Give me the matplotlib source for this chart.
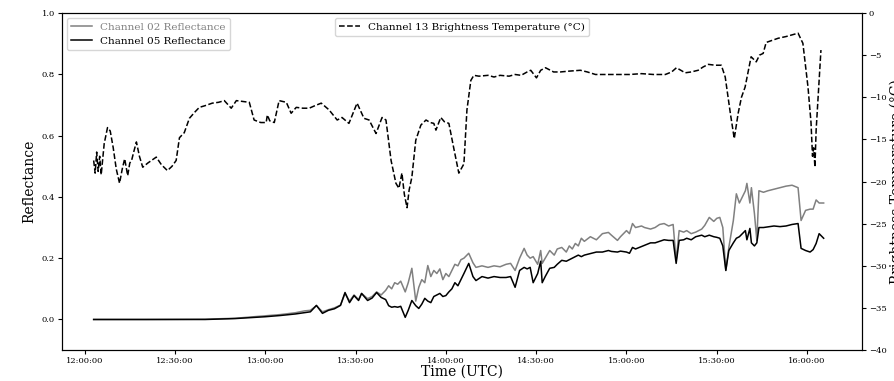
import pandas as pd
import matplotlib.pyplot as plt
import matplotlib.dates as mdates

plt.rcParams["font.family"] = "DejaVu Serif"

start = pd.Timestamp("2023-06-01 12:00:00")

# Visible reflectance (minutes after 12:00 UTC)
refl_minutes = [3, 20, 40, 50, 55, 60, 65, 70, 73, 75, 77, 79, 81, 83, 85, 86.5, 88, 89.5, 91, 92,
                94, 95.5, 97, 98.5, 100, 101, 102, 103, 104, 105, 106.5, 107.5, 108.7, 110, 111, 112,
                113, 114, 115, 116, 117, 118, 119, 120, 121, 122, 123, 124, 125, 126, 127.6, 129, 130,
                132, 134, 136, 138, 140, 141.5, 143, 144.5, 146, 147, 148, 149, 150.5, 151.5, 152,
                153, 154.5, 156, 157, 158.5, 160, 161, 162, 163, 164, 165, 166, 168, 170, 172, 174,
                175, 177, 178, 180, 181, 182, 183, 185, 186, 188, 189.5, 191, 192.5, 194, 195.5,
                196.5, 197.5, 199, 200, 201.5, 203, 205, 206, 207.5, 209, 210, 211, 212, 213, 214,
                215.5, 216.5, 217.5, 218.5, 219.5, 220, 221, 221.5, 222.5, 223.3, 224, 225.5, 227,
                229, 231, 233, 235, 237, 238, 239.5, 241, 242, 243, 244, 245.5]
ch02 = [0.0, 0.0, 0.001, 0.004, 0.008, 0.012, 0.016, 0.022, 0.028, 0.03, 0.045, 0.025, 0.032, 0.038,
        0.047, 0.085, 0.06, 0.08, 0.065, 0.085, 0.068, 0.075, 0.09, 0.08, 0.095, 0.11, 0.1, 0.12,
        0.115, 0.125, 0.09, 0.12, 0.167, 0.06, 0.105, 0.13, 0.12, 0.176, 0.14, 0.16, 0.15, 0.165,
        0.13, 0.15, 0.14, 0.16, 0.18, 0.175, 0.195, 0.2, 0.216, 0.185, 0.17, 0.175, 0.17, 0.175,
        0.172, 0.18, 0.183, 0.16, 0.2, 0.232, 0.21, 0.2, 0.205, 0.18, 0.225, 0.183, 0.2, 0.225,
        0.21, 0.23, 0.235, 0.22, 0.24, 0.23, 0.248, 0.24, 0.265, 0.255, 0.27, 0.26, 0.28, 0.284,
        0.275, 0.258, 0.27, 0.29, 0.28, 0.313, 0.3, 0.305, 0.3, 0.295, 0.3, 0.31, 0.313, 0.305,
        0.31, 0.193, 0.29, 0.285, 0.29, 0.28, 0.285, 0.295, 0.307, 0.333, 0.32, 0.33, 0.333, 0.3,
        0.16, 0.235, 0.323, 0.41, 0.38, 0.4, 0.42, 0.444, 0.38, 0.43, 0.346, 0.258, 0.42, 0.415,
        0.42, 0.425, 0.43, 0.435, 0.438, 0.43, 0.323, 0.356, 0.36, 0.36, 0.39, 0.38, 0.38]
ch05 = [0.0, 0.0, 0.0, 0.003, 0.006, 0.009, 0.013, 0.018, 0.022, 0.025, 0.046, 0.02, 0.03, 0.035,
        0.046, 0.088, 0.055, 0.078, 0.062, 0.085, 0.062, 0.07, 0.088, 0.072, 0.065, 0.045, 0.04,
        0.042, 0.04, 0.043, 0.007, 0.03, 0.062, 0.045, 0.036, 0.05, 0.069, 0.06, 0.055, 0.075, 0.08,
        0.085, 0.075, 0.078, 0.09, 0.1, 0.12, 0.11, 0.13, 0.15, 0.183, 0.14, 0.127, 0.14, 0.135,
        0.14, 0.137, 0.137, 0.14, 0.105, 0.16, 0.17, 0.165, 0.17, 0.12, 0.15, 0.19, 0.12, 0.14,
        0.167, 0.17, 0.18, 0.193, 0.19, 0.195, 0.2, 0.205, 0.21, 0.205, 0.21, 0.215, 0.22, 0.22,
        0.225, 0.222, 0.22, 0.223, 0.22, 0.216, 0.235, 0.23, 0.238, 0.242, 0.25, 0.25, 0.255, 0.26,
        0.258, 0.258, 0.183, 0.258, 0.26, 0.265, 0.26, 0.27, 0.275, 0.27, 0.275, 0.27, 0.268,
        0.265, 0.24, 0.16, 0.225, 0.25, 0.265, 0.27, 0.28, 0.29, 0.26, 0.297, 0.25, 0.24, 0.25,
        0.3, 0.3, 0.302, 0.305, 0.303, 0.305, 0.31, 0.313, 0.232, 0.225, 0.22, 0.228, 0.248, 0.28,
        0.265]

# Channel 13 brightness temperature (deg C)
bt_minutes = [3, 3.5, 4, 4.5, 5, 5.5, 6.5, 7.6, 8.5, 9.5, 10.5, 11.6, 12.5, 13.3, 14.3, 15.0, 15.6,
              16.3, 17.2, 18.2, 19.3, 21, 23.8, 25.5, 27.5, 29, 30.4, 31.5, 33.1, 34.8, 36.5, 38.1,
              40, 42.4, 44.5, 46.4, 48.7, 50.4, 52.5, 54.7, 56.3, 58.5, 60.3, 60.7, 61.5, 63.0,
              64.6, 67.0, 68.6, 70.3, 72.5, 74.6, 76.5, 78.6, 81.2, 83.9, 85.5, 87.8, 90.5, 92.8,
              94.5, 96.8, 98.8, 100.1, 101.8, 103.4, 104.4, 105.4, 106.2, 107.1, 107.8, 108.7, 110.0,
              111.7, 113.4, 114.8, 116.0, 116.7, 118.3, 119.5, 121.0, 122.6, 124.3, 126.0, 127.0,
              128.3, 129.3, 131, 134, 136, 138, 141, 143, 145, 147, 148.2, 150.1, 151.5, 153.1,
              155.8, 158, 161, 164.7, 167, 169.7, 173, 177, 181, 185, 189, 192.9, 195, 196.6, 199.5,
              201.5, 203.8, 205.5, 207.2, 209.5, 211.5, 212.8, 214.5, 215.8, 217.1, 218.2, 219.4,
              220.4, 221.4, 223.1, 224.2, 225.4, 226.4, 228, 230.4, 233, 235, 237, 238.6, 240.3,
              241.3, 241.8, 242.2, 242.6, 243.0, 244.0, 244.6]
bt_values = [-17.5, -19.0, -16.5, -18.8, -17.0, -19.2, -15.5, -13.6, -14.0, -16.0, -18.5, -20.2,
             -18.5, -17.3, -19.3, -17.8, -17.5, -16.5, -15.3, -17.0, -18.3, -17.8, -17.1, -18.0,
             -18.7, -18.2, -17.5, -14.8, -14.2, -12.5, -11.8, -11.2, -11.0, -10.7, -10.6, -10.4,
             -11.3, -10.4, -10.5, -10.6, -12.7, -13.0, -13.0, -12.1, -12.8, -13.0, -10.4, -10.6,
             -11.9, -11.2, -11.3, -11.3, -11.0, -10.7, -11.5, -12.7, -12.4, -13.1, -10.7, -12.5,
             -12.7, -14.3, -12.4, -12.7, -17.5, -20.2, -20.8, -19.0, -21.5, -23.1, -21.0, -19.5,
             -15.1, -13.3, -12.7, -13.0, -13.1, -13.9, -12.4, -12.9, -13.1, -16.0, -19.0, -17.9,
             -11.5, -8.0, -7.4, -7.5, -7.4, -7.6, -7.4, -7.5, -7.3, -7.4, -7.0, -6.8, -7.7, -6.8,
             -6.5, -7.0, -7.0, -6.9, -6.8, -7.0, -7.3, -7.3, -7.3, -7.3, -7.2, -7.3, -7.3, -7.0,
             -6.5, -7.1, -7.0, -6.8, -6.4, -6.1, -6.2, -6.2, -7.6, -11.9, -14.9, -11.9, -10.0,
             -8.8, -7.0, -5.2, -5.8, -5.0, -4.8, -3.5, -3.3, -3.0, -2.8, -2.6, -2.4, -3.6, -8.8,
             -13.0, -17.0, -16.0, -18.3, -13.9, -8.0, -4.4]

refl_time = start + pd.to_timedelta(refl_minutes, unit="m")
bt_time = start + pd.to_timedelta(bt_minutes, unit="m")

fig, ax = plt.subplots(figsize=(8.95, 3.81), dpi=100)
fig.subplots_adjust(left=0.069, right=0.963, top=0.966, bottom=0.081)

ax.plot(refl_time, ch02, color="gray", lw=1.1, label="Channel 02 Reflectance")
ax.plot(refl_time, ch05, color="black", lw=1.1, label="Channel 05 Reflectance")
ax.set_ylim(-0.1, 1.0)
ax.set_ylabel("Reflectance", fontsize=10)
ax.set_xlabel("Time (UTC)", fontsize=10, labelpad=0)
ax.tick_params(labelsize=6, length=3, pad=2)
ax.legend(loc="upper left", fontsize=7.5, labelcolor="linecolor")

ax2 = ax.twinx()
ax2.plot(bt_time, bt_values, color="black", ls="--", lw=1.1,
         label="Channel 13 Brightness Temperature (\u00b0C)")
ax2.set_ylim(-40, 0)
ax2.set_ylabel("Brightness Temperature (\u00b0C)", fontsize=10, labelpad=2)
ax2.tick_params(labelsize=6, length=3, pad=2)
ax2.legend(loc="upper center", fontsize=7.5)

ax.set_xlim(start - pd.Timedelta(minutes=7.6), start + pd.Timedelta(minutes=258.2))
ax.xaxis.set_major_locator(mdates.MinuteLocator(byminute=[0, 30]))
ax.xaxis.set_major_formatter(mdates.DateFormatter("%H:%M:%S"))

fig.savefig("out.png", dpi=100)
